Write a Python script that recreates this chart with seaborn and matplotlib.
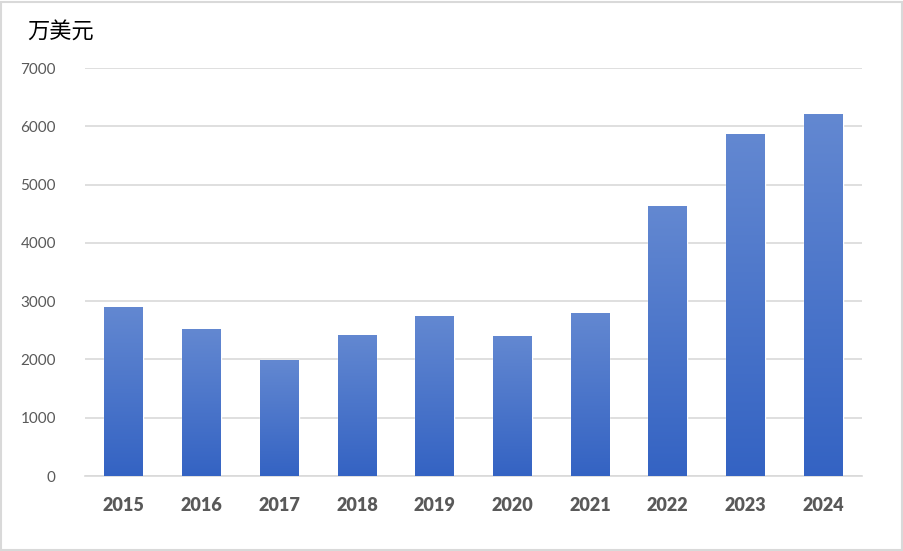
import matplotlib.pyplot as plt
import matplotlib.colors as mcolors
import seaborn as sns
import pandas as pd
import numpy as np

years = ["2015", "2016", "2017", "2018", "2019", "2020", "2021", "2022", "2023", "2024"]
values = [2900, 2520, 1990, 2420, 2740, 2400, 2800, 4630, 5870, 6210]
y_ticks = [0, 1000, 2000, 3000, 4000, 5000, 6000, 7000]
unit_label = "万美元"

df = pd.DataFrame({"year": years, "value": values})

sns.set_style("white")
plt.rcParams["font.family"] = ["Noto Sans CJK SC", "DejaVu Sans"]

fig = plt.figure(figsize=(9.04, 5.51), dpi=100)
ax = fig.add_axes([85 / 904, 1 - 476 / 551, 777 / 904, 408 / 551])

sns.barplot(data=df, x="year", y="value", color="#4a76cb", width=0.5, ax=ax, zorder=2)

# vertical gradient fill clipped to each bar
grad_cmap = mcolors.LinearSegmentedColormap.from_list("g", ["#3463c3", "#6388d1"])
grad = np.linspace(0, 1, 256).reshape(-1, 1)
for bar in ax.patches:
    x0, y0 = bar.get_x(), bar.get_y()
    w, h = bar.get_width(), bar.get_height()
    im = ax.imshow(grad, cmap=grad_cmap, aspect="auto", origin="lower",
                   extent=[x0, x0 + w, y0, y0 + h], zorder=3)
    im.set_clip_path(bar)

ax.set_xlim(-0.5, len(years) - 0.5)
ax.set_ylim(0, 7000)
ax.set_yticks(y_ticks)
ax.set_yticklabels([str(t) for t in y_ticks], color="#595959", fontsize=11, family="Lato")
ax.set_xticks(range(len(years)))
ax.set_xticklabels(years, color="#595959", fontsize=13, fontweight="heavy", family="Lato")
ax.tick_params(axis="y", length=0, pad=21)
ax.tick_params(axis="x", length=0, pad=15)
ax.grid(axis="y", color="#d9d9d9", linewidth=1.2, zorder=0)
ax.set_axisbelow(True)
ax.set_xlabel("")
ax.set_ylabel("")
for side in ["top", "right", "left"]:
    ax.spines[side].set_visible(False)
ax.spines["bottom"].set_color("#d9d9d9")
ax.spines["bottom"].set_linewidth(1.2)

fig.text(27 / 904, 1 - 32 / 551, unit_label, fontsize=16, color="#000000", va="center", ha="left")

# light frame around the figure
fig.patches.append(plt.Rectangle((0.001, 0.002), 0.997, 0.995, transform=fig.transFigure,
                                 fill=False, edgecolor="#d9d9d9", linewidth=1.5))

fig.savefig("out.png", dpi=100, facecolor="white")
